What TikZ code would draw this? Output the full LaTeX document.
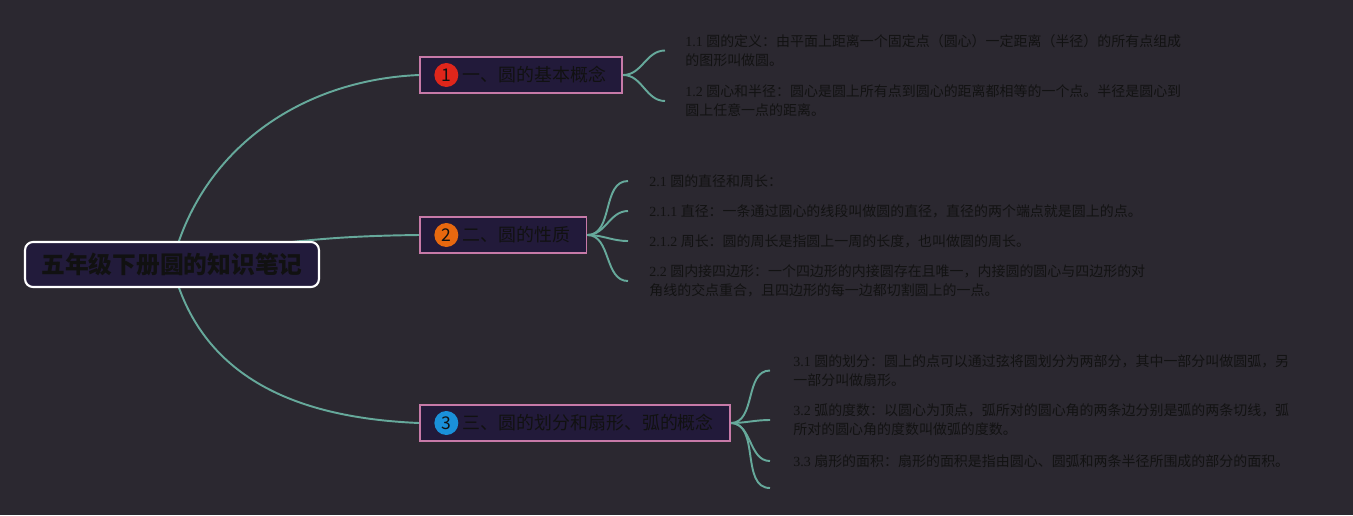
\documentclass[tikz,border=0pt]{standalone}
\usepackage{fontspec}
\setmainfont{Liberation Serif}
\newfontfamily\zhfont{Noto Sans CJK SC}
\newcommand{\zh}[1]{{\zhfont #1}}
\usetikzlibrary{positioning, backgrounds}

\definecolor{bgcol}{HTML}{2B2830}
\definecolor{rootfill}{HTML}{221B3B}
\definecolor{branchfill}{HTML}{221A3A}
\definecolor{branchline}{HTML}{C77AA8}
\definecolor{linkcol}{HTML}{66A99B}
\definecolor{darktext}{HTML}{111111}
\definecolor{leaftext}{HTML}{121212}
\definecolor{badgered}{HTML}{E0261B}
\definecolor{badgeorange}{HTML}{E8680F}
\definecolor{badgeblue}{HTML}{1A90D9}

\begin{document}
\begin{tikzpicture}[x=0.02cm, y=-0.02cm]
    \tikzstyle{rootbox} = [draw=white, line width=1.2pt, fill=rootfill, rounded corners=0.16cm, minimum width=5.88cm, minimum height=0.9cm, text=darktext, font=\zhfont\bfseries\fontsize{13.5}{15}\selectfont]
    \tikzstyle{branch} = [draw=branchline, line width=1pt, fill=branchfill, anchor=west, minimum height=0.72cm, inner xsep=0.32cm, text=darktext, font=\zhfont\fontsize{10.2}{12}\selectfont]
    \tikzstyle{badge} = [circle, minimum size=0.48cm, inner sep=0pt, text=darktext, font=\zhfont\fontsize{10}{10}\selectfont]
    \tikzstyle{leaf} = [anchor=west, align=left, inner sep=0pt, text=leaftext, font=\fontsize{7.95}{10.7}\selectfont]
    \tikzstyle{link} = [draw=linkcol, line width=1.1pt]

    % root and main branches
    \node[rootbox] (root) at (172,264.5) {五年级下册圆的知识笔记};
    \node[branch] (br1) at (419,75) {\hspace{0.54cm}一、圆的基本概念};
    \node[branch] (br2) at (419,235) {\hspace{0.54cm}二、圆的性质};
    \node[branch] (br3) at (419,423) {\hspace{0.54cm}三、圆的划分和扇形、弧的概念};
    \node[badge, fill=badgered, right=0.3cm of br1.west] (b1) {1};
    \node[badge, fill=badgeorange, right=0.3cm of br2.west] (b2) {2};
    \node[badge, fill=badgeblue, right=0.3cm of br3.west] (b3) {3};

    % leaves
    \node[leaf] (l11) at (685,50.5) {1.1 \zh{圆的定义：由平面上距离一个固定点（圆心）一定距离（半径）的所有点组成}\\\zh{的图形叫做圆。}};
    \node[leaf] (l12) at (685,101) {1.2 \zh{圆心和半径：圆心是圆上所有点到圆心的距离都相等的一个点。半径是圆心到}\\\zh{圆上任意一点的距离。}};
    \node[leaf] (l21) at (649,181) {2.1 \zh{圆的直径和周长：}};
    \node[leaf] (l211) at (649,211) {2.1.1 \zh{直径：一条通过圆心的线段叫做圆的直径，直径的两个端点就是圆上的点。}};
    \node[leaf] (l212) at (649,241) {2.1.2 \zh{周长：圆的周长是指圆上一周的长度，也叫做圆的周长。}};
    \node[leaf] (l22) at (649,281) {2.2 \zh{圆内接四边形：一个四边形的内接圆存在且唯一，内接圆的圆心与四边形的对}\\\zh{角线的交点重合，且四边形的每一边都切割圆上的一点。}};
    \node[leaf] (l31) at (793,370.5) {3.1 \zh{圆的划分：圆上的点可以通过弦将圆划分为两部分，其中一部分叫做圆弧，另}\\\zh{一部分叫做扇形。}};
    \node[leaf] (l32) at (793,420) {3.2 \zh{弧的度数：以圆心为顶点，弧所对的圆心角的两条边分别是弧的两条切线，弧}\\\zh{所对的圆心角的度数叫做弧的度数。}};
    \node[leaf] (l33) at (793,461) {3.3 \zh{扇形的面积：扇形的面积是指由圆心、圆弧和两条半径所围成的部分的面积。}};
    \coordinate (e34) at (770,488);

    \begin{pgfonlayer}{background}
        \fill[bgcol] (0,0) rectangle (1353,515);
        % root to branches
        \draw[link] (root.center) .. controls (200,150) and (300,80) .. (br1.west);
        \draw[link] (root.center) .. controls (260,242) and (330,236) .. (br2.west);
        \draw[link] (root.center) .. controls (200,380) and (300,418) .. (br3.west);
        % branches to leaves
        \draw[link] (br1.east) to[out=0, in=180] ([xshift=-0.4cm]l11.west);
        \draw[link] (br1.east) to[out=0, in=180] ([xshift=-0.4cm]l12.west);
        \draw[link] (br2.east) to[out=0, in=180] ([xshift=-0.42cm]l21.west);
        \draw[link] (br2.east) to[out=0, in=180] ([xshift=-0.42cm]l211.west);
        \draw[link] (br2.east) to[out=0, in=180] ([xshift=-0.42cm]l212.west);
        \draw[link] (br2.east) to[out=0, in=180] ([xshift=-0.42cm]l22.west);
        \draw[link] (br3.east) to[out=0, in=180] ([xshift=-0.46cm]l31.west);
        \draw[link] (br3.east) to[out=0, in=180] ([xshift=-0.46cm]l32.west);
        \draw[link] (br3.east) to[out=0, in=180] ([xshift=-0.46cm]l33.west);
        \draw[link] (br3.east) to[out=0, in=180] (e34);
    \end{pgfonlayer}
\end{tikzpicture}
\end{document}
